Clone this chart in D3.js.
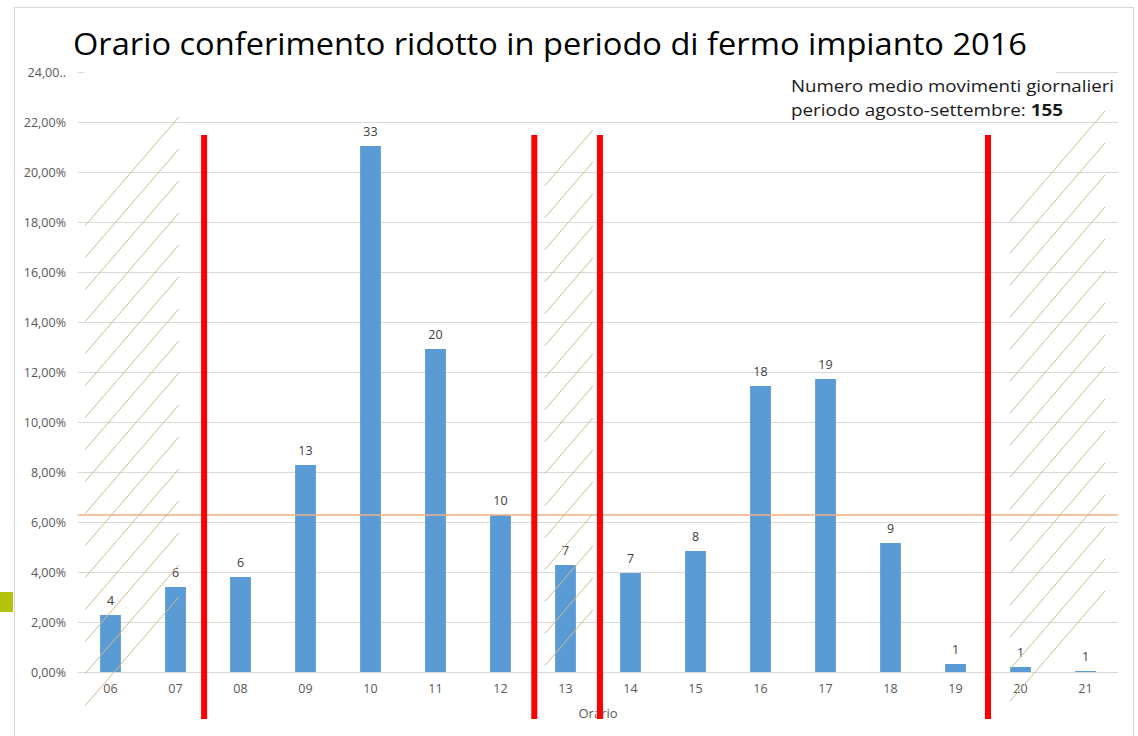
<!DOCTYPE html>
<html>
<head>
<meta charset="utf-8">
<script src="https://cdn.jsdelivr.net/npm/d3@7"></script>
<style>
  body { margin: 0; background: #fff; }
  svg { display: block; }
  text { font-family: "Open Sans", "Noto Sans", sans-serif; }
</style>
</head>
<body>
<div id="chart"></div>
<script>
// hours on the x axis, share of daily movements (%) and the count shown on each bar
var hours = ["06", "07", "08", "09", "10", "11", "12", "13", "14", "15", "16", "17", "18", "19", "20", "21"];
var shares = [2.28, 3.4, 3.8, 8.28, 21.04, 12.92, 6.28, 4.28, 3.96, 4.84, 11.44, 11.72, 5.16, 0.32, 0.2, 0.04];
var counts = [4, 6, 6, 13, 33, 20, 10, 7, 7, 8, 18, 19, 9, 1, 1, 1];
var yTicks = [0, 2, 4, 6, 8, 10, 12, 14, 16, 18, 20, 22, 24];
var avgShare = 6.28;

// red separators: hour after which the line stands, and fraction of the band step past its centre
var redMarks = [["07", 0.44], ["12", 0.52], ["13", 0.53], ["19", 0.5]];
// hatched (closed) zones: first hour + offset (in steps), last hour + offset, top of hatching (%)
var hatchZones = [["06", -0.39, "07", 0.05, 22.2], ["13", -0.32, "13", 0.42, 21.68], ["20", -0.16, "21", 0.3, 22.44]];

var width = 1138, height = 736;
var margin = {top: 72, bottom: 64, left: 78, right: 20};

var svg = d3.select("#chart").append("svg")
    .attr("width", width)
    .attr("height", height);

// chart frame
svg.append("rect")
    .attr("x", 14.5).attr("y", 7.5)
    .attr("width", 1119).attr("height", 740)
    .attr("fill", "none").attr("stroke", "#d9d9d9");

// small green tab on the slide edge
svg.append("rect")
    .attr("x", 0).attr("y", 592).attr("width", 13).attr("height", 20)
    .attr("fill", "#b5c30c");

var x = d3.scaleBand()
    .domain(hours)
    .range([margin.left, width - margin.right])
    .paddingInner(0.68)
    .paddingOuter(0.34);

var y = d3.scaleLinear()
    .domain([0, 24])
    .range([height - margin.bottom, margin.top]);

var step = x.step();
function cx(h) { return x(h) + x.bandwidth() / 2; }

// horizontal grid
svg.append("g")
    .attr("class", "grid")
    .attr("transform", "translate(" + margin.left + ",0)")
    .call(d3.axisLeft(y).tickValues(yTicks).tickSize(-(width - margin.right - margin.left)).tickFormat(""))
    .call(function(g) {
        g.select(".domain").remove();
        g.selectAll("line").attr("stroke", "#d9d9d9").attr("stroke-width", 1);
    });

// y axis labels
var yAxis = d3.axisLeft(y)
    .tickValues(yTicks)
    .tickSize(0)
    .tickPadding(12)
    .tickFormat(function(d) { return d == 24 ? "24,00.." : d3.format(".2f")(d).replace(".", ",") + "%"; });

svg.append("g")
    .attr("transform", "translate(" + margin.left + ",0)")
    .call(yAxis)
    .call(function(g) {
        g.select(".domain").remove();
        g.selectAll("text").attr("fill", "#595959").style("font-size", "12.5px")
            .style("font-family", "'Open Sans', sans-serif");
    });

// x axis labels
var xAxis = d3.axisBottom(x).tickSize(0).tickPadding(12);
svg.append("g")
    .attr("transform", "translate(0," + y(0) + ")")
    .call(xAxis)
    .call(function(g) {
        g.select(".domain").remove();
        g.selectAll("text").attr("fill", "#595959").style("font-size", "12.5px")
            .style("font-family", "'Open Sans', sans-serif");
    });

svg.append("text")
    .attr("x", (margin.left + width - margin.right) / 2)
    .attr("y", 718)
    .attr("text-anchor", "middle")
    .attr("fill", "#595959")
    .style("font-size", "13px")
    .text("Orario");

// bars
var data = hours.map(function(h, i) { return {h: h, v: shares[i], n: counts[i]}; });

svg.selectAll(".bar")
    .data(data)
  .enter().append("rect")
    .attr("class", "bar")
    .attr("x", function(d) { return x(d.h); })
    .attr("y", function(d) { return y(d.v); })
    .attr("width", x.bandwidth())
    .attr("height", function(d) { return y(0) - y(d.v); })
    .attr("fill", "#5b9bd5");

svg.selectAll(".lbl")
    .data(data)
  .enter().append("text")
    .attr("class", "lbl")
    .attr("x", function(d) { return cx(d.h); })
    .attr("y", function(d) { return y(d.v) - 10; })
    .attr("text-anchor", "middle")
    .attr("fill", "#404040")
    .style("font-size", "12.5px")
    .text(function(d) { return d.n; });

// average line
svg.append("line")
    .attr("x1", margin.left).attr("x2", width - margin.right)
    .attr("y1", y(avgShare)).attr("y2", y(avgShare))
    .attr("stroke", "#f4b183").attr("stroke-width", 1.5);

// hatching over the closed hours
var slope = 1.16, gap = 32, nLines = 16;
hatchZones.forEach(function(z) {
    var x0 = cx(z[0]) + z[1] * step;
    var x1 = cx(z[2]) + z[3] * step;
    var top = y(z[4]);
    var segs = d3.range(nLines).map(function(k) { return top + k * gap; });
    svg.append("g").selectAll("line")
        .data(segs)
      .enter().append("line")
        .attr("x1", x0).attr("x2", x1)
        .attr("y1", function(d) { return d + (x1 - x0) * slope; })
        .attr("y2", function(d) { return d; })
        .attr("stroke", "#cbbd91").attr("stroke-width", 1);
});

// red separators
svg.selectAll(".sep")
    .data(redMarks)
  .enter().append("line")
    .attr("class", "sep")
    .attr("x1", function(d) { return cx(d[0]) + d[1] * step; })
    .attr("x2", function(d) { return cx(d[0]) + d[1] * step; })
    .attr("y1", 135).attr("y2", 719)
    .attr("stroke", "#ff0000").attr("stroke-width", 6);

// title box (white, hides the 24% gridline underneath)
svg.append("rect")
    .attr("x", 84).attr("y", 14).attr("width", 972).attr("height", 62)
    .attr("fill", "#fff");

svg.append("text")
    .attr("x", 73).attr("y", 55)
    .attr("fill", "#000")
    .attr("textLength", 954)
    .attr("lengthAdjust", "spacingAndGlyphs")
    .style("font-size", "31px")
    .text("Orario conferimento ridotto in periodo di fermo impianto 2016");

svg.append("text")
    .attr("x", 791).attr("y", 92)
    .attr("fill", "#1a1a1a")
    .attr("textLength", 323)
    .attr("lengthAdjust", "spacingAndGlyphs")
    .style("font-size", "16px")
    .text("Numero medio movimenti giornalieri");

var t2 = svg.append("text")
    .attr("x", 791).attr("y", 116)
    .attr("fill", "#1a1a1a")
    .attr("textLength", 272)
    .attr("lengthAdjust", "spacingAndGlyphs")
    .style("font-size", "16px");
t2.append("tspan").text("periodo agosto-settembre: ");
t2.append("tspan").attr("font-weight", "bold").text("155");
</script>
</body>
</html>
